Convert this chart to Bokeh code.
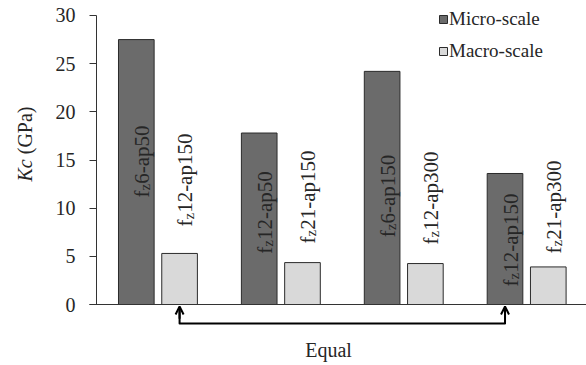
import numpy as np
from bokeh.plotting import figure
from bokeh.models import (ColumnDataSource, Label, Legend, LegendItem,
                          Arrow, OpenHead, FixedTicker, Range1d)
from bokeh.core.properties import value
from bokeh.embed import file_html
from bokeh.resources import INLINE

# ---- data -------------------------------------------------------------
groups = [1, 2, 3, 4]
micro_kc = [27.5, 17.8, 24.2, 13.6]
macro_kc = [5.3, 4.35, 4.25, 3.9]
micro_labels = ["fz6-ap50", "fz12-ap50", "fz6-ap150", "fz12-ap150"]
macro_labels = ["fz12-ap150", "fz21-ap150", "fz12-ap300", "fz21-ap300"]
y_ticks = [0, 5, 10, 15, 20, 25, 30]

# ---- layout -----------------------------------------------------------
W, H = 586, 365
AXIS_SX = 96                      # pixel column of the value axis
PX_X = 122.9                      # pixels per group
X1 = 4.487
XL = 0.5 - AXIS_SX / PX_X
Y0, Y1 = -6.332, 31.557
PX_Y = H / (Y1 - Y0)

BAR_W = 0.29
OFFSET = 0.176
micro_label_y = [14.85, 9.55, 11.26, 6.70]   # centre of rotated bar captions
macro_label_y = [12.92, 11.16, 11.06, 10.12]

SERIF = "Liberation Serif"
DARK = "#6b6b6b"
LIGHT = "#d9d9d9"
EDGE = "#2b2b2b"
INK = "#262626"
AXIS = "#333333"


def sx_to_x(sx):
    return XL + sx / PX_X


def sy_to_y(sy):
    return Y1 - sy / PX_Y


# Times-compatible advance widths (per 1000 em)
ADV = {"f": 333, "z": 444, "-": 333, "a": 444, "p": 500, " ": 250,
       "K": 667, "c": 444}
for d in "0123456789":
    ADV[d] = 500


def adv(s, size):
    return sum(ADV.get(c, 500) for c in s) * size / 1000.0


p = figure(width=W, height=H, output_backend="svg", toolbar_location=None,
           x_range=Range1d(XL, X1), y_range=Range1d(Y0, Y1),
           min_border_left=0, min_border_right=0,
           min_border_top=0, min_border_bottom=0)
p.outline_line_color = None
p.xgrid.visible = False
p.ygrid.visible = False
p.background_fill_color = "white"
p.border_fill_color = "white"

# value axis, drawn inside the frame and limited to 0..30
ax = p.yaxis[0]
ax.fixed_location = 0.5
ax.bounds = (0, 30)
ax.ticker = FixedTicker(ticks=y_ticks)
ax.minor_tick_line_color = None
ax.major_tick_in = 0
ax.major_tick_out = 7
ax.axis_line_color = AXIS
ax.major_tick_line_color = AXIS
ax.major_label_text_font = SERIF
ax.major_label_text_font_size = "20px"
ax.major_label_text_color = INK
ax.major_label_standoff = 14

# category baseline at Kc = 0, no ticks
bx = p.xaxis[0]
bx.fixed_location = 0
bx.bounds = (sx_to_x(AXIS_SX - 7), X1)
bx.ticker = FixedTicker(ticks=[])
bx.minor_tick_line_color = None
bx.major_tick_line_color = None
bx.major_label_text_font_size = "0px"
bx.axis_line_color = AXIS

xs_micro = [g - OFFSET for g in groups]
xs_macro = [g + OFFSET for g in groups]

r_micro = p.vbar(x=xs_micro, top=micro_kc, bottom=0, width=BAR_W,
                 fill_color=DARK, line_color=EDGE, line_width=1)
r_macro = p.vbar(x=xs_macro, top=macro_kc, bottom=0, width=BAR_W,
                 fill_color=LIGHT, line_color=EDGE, line_width=1)

# rotated captions "f_z..." with subscript z
MAIN, SUB = 21, 15
BASE_DX = 5.5
pieces = {"f": [], "z": [], "rest": []}
for labels, xs, ys in ((micro_labels, xs_micro, micro_label_y),
                       (macro_labels, xs_macro, macro_label_y)):
    for lab, x, y in zip(labels, xs, ys):
        head, sub, rest = lab[0], lab[1], lab[2:]
        a_f = adv(head, MAIN)
        a_z = adv(sub, SUB)
        total = a_f + a_z + adv(rest, MAIN)
        start = total / 2
        pieces["f"].append((x, y, start, head))
        pieces["z"].append((x, y, start - a_f, sub))
        pieces["rest"].append((x, y, start - a_f - a_z, rest))

for key, size, dx in (("f", MAIN, BASE_DX), ("z", SUB, BASE_DX + 3.5),
                      ("rest", MAIN, BASE_DX)):
    rows = pieces[key]
    src = ColumnDataSource(dict(x=[r[0] for r in rows], y=[r[1] for r in rows],
                                yo=[r[2] for r in rows],
                                text=[r[3] for r in rows]))
    p.text(x="x", y="y", text="text", y_offset="yo", x_offset=dx, source=src,
           angle=np.pi / 2, text_align="left", text_baseline="alphabetic",
           text_font=value(SERIF), text_font_size=value(f"{size}px"),
           text_color=INK)

# "Equal" bracket between the two fz12-ap150 bars
xa = xs_macro[0]
xb = xs_micro[3]
y_low = sy_to_y(323)
y_tip = sy_to_y(306)
p.line(x=[xa, xa, xb, xb], y=[y_tip - 0.3, y_low, y_low, y_tip - 0.3],
       line_color="black", line_width=2, line_join="round")
for xx in (xa, xb):
    p.add_layout(Arrow(end=OpenHead(size=8, line_width=2, line_color="black"),
                       x_start=xx, y_start=y_low + 0.5, x_end=xx, y_end=y_tip,
                       line_width=2, line_color="black"))
p.add_layout(Label(x=sx_to_x(328), y=sy_to_y(349), text="Equal",
                   text_align="center", text_baseline="middle",
                   text_font=SERIF, text_font_size="20px", text_color=INK))

# value-axis title: italic Kc followed by (GPa)
ylab_x = sx_to_x(25)
p.text(x=[ylab_x], y=[sy_to_y(181)], text=["Kc"], angle=np.pi / 2,
       text_align="left", text_baseline="alphabetic",
       text_font=value(SERIF), text_font_style="italic",
       text_font_size=value("20px"), text_color=INK)
p.text(x=[ylab_x], y=[sy_to_y(181 - adv("Kc ", 20))], text=["(GPa)"],
       angle=np.pi / 2, text_align="left", text_baseline="alphabetic",
       text_font=value(SERIF), text_font_size=value("20px"), text_color=INK)

legend = Legend(items=[LegendItem(label="Micro-scale", renderers=[r_micro]),
                       LegendItem(label="Macro-scale", renderers=[r_macro])],
                location=(438, H - 62),
                padding=0, margin=0, spacing=10, glyph_width=10,
                glyph_height=10, label_standoff=1, label_height=20,
                label_text_font=SERIF, label_text_font_size="19px",
                label_text_color=INK, border_line_color=None,
                background_fill_alpha=0)
p.add_layout(legend)

open("out.html", "w").write(file_html(p, INLINE))
